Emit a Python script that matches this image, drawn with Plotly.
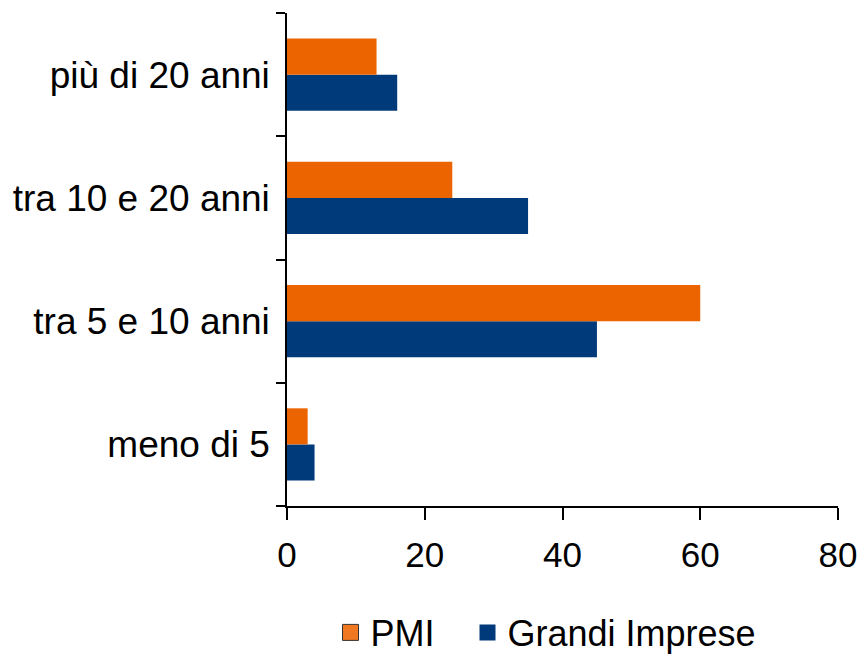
import plotly.graph_objects as go

categories = ["meno di 5", "tra 5 e 10 anni", "tra 10 e 20 anni", "più di 20 anni"]
pmi = [3, 60, 24, 13]
grandi = [4, 45, 35, 16]
x_ticks = [0, 20, 40, 60, 80]

FONT = "Liberation Sans, Arial, sans-serif"
ORANGE = "#EC6400"
NAVY = "#003A7A"

fig = go.Figure()
fig.add_trace(go.Bar(y=categories, x=grandi, orientation="h", name="Grandi Imprese",
                     marker=dict(color=NAVY, line=dict(width=0)), showlegend=False))
fig.add_trace(go.Bar(y=categories, x=pmi, orientation="h", name="PMI",
                     marker=dict(color=ORANGE, line=dict(width=0)), showlegend=False))
# legend entries
fig.add_trace(go.Scatter(x=[None], y=[None], mode="markers", name="PMI", legend="legend",
                         marker=dict(symbol="square", size=16, color="#F07820",
                                     line=dict(color="#333333", width=1))))
fig.add_trace(go.Scatter(x=[None], y=[None], mode="markers", name="Grandi Imprese", legend="legend2",
                         marker=dict(symbol="square", size=16, color=NAVY,
                                     line=dict(width=0))))

W, H = 859, 647  # page body has an 8px margin, so the figure is drawn 8px smaller
leg_common = dict(orientation="h", xref="container", yref="container", xanchor="left",
                  yanchor="middle", y=22.5 / H, font=dict(size=36, family=FONT),
                  itemwidth=30, bgcolor="rgba(0,0,0,0)")

fig.update_layout(
    width=W, height=H,
    margin=dict(l=279, r=29, t=5, b=149, autoexpand=False),
    paper_bgcolor="white", plot_bgcolor="white",
    barmode="group", bargap=0.415, bargroupgap=0,
    font=dict(family=FONT, color="black", size=35),
    showlegend=True,
    legend=dict(x=322.5 / W, **leg_common),
    legend2=dict(x=459.5 / W, **leg_common),
)
fig.update_xaxes(range=[0, 80], tickvals=x_ticks, showline=True, linecolor="black", linewidth=1.5,
                 ticks="outside", ticklen=12, tickwidth=1.5, tickcolor="black",
                 showgrid=False, zeroline=False, tickfont=dict(size=35), automargin=False,
                 ticklabelstandoff=5)
fig.update_yaxes(categoryorder="array", categoryarray=categories, range=[-0.5, 3.5],
                 showline=True, linecolor="black", linewidth=1.5,
                 ticks="outside", tickson="boundaries", ticklen=9, tickwidth=1.5, tickcolor="black",
                 showgrid=False, zeroline=False, tickfont=dict(size=37), ticklabelstandoff=8,
                 automargin=False)

fig.write_html("out.html")
